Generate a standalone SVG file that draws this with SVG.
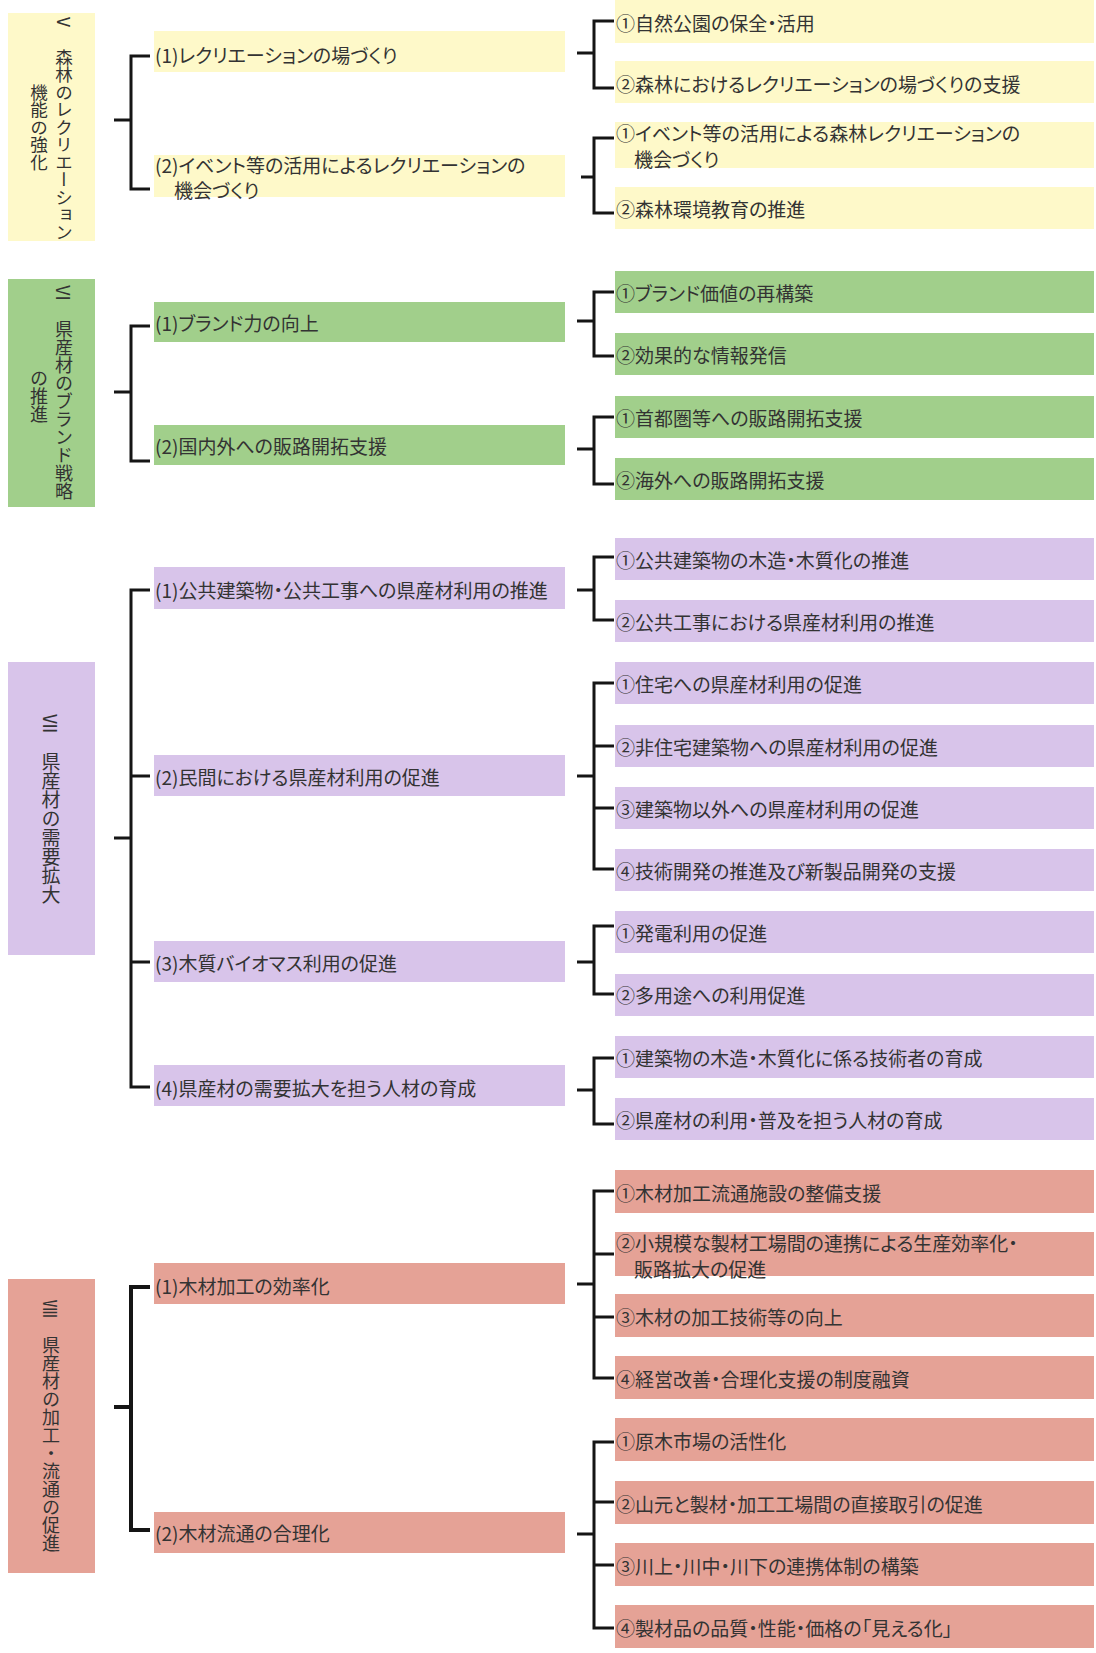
<svg xmlns="http://www.w3.org/2000/svg" width="1096" height="1653" viewBox="0 0 1096 1653">
<style>
.t{font-family:"Noto Sans CJK JP","Noto Sans CJK SC",sans-serif;font-size:19px;fill:#333;dominant-baseline:central;font-feature-settings:"palt"}
.vt{writing-mode:vertical-rl;text-anchor:middle;font-size:18px;font-feature-settings:normal}
.sd{text-orientation:sideways}
.y{fill:#FEF9C9}.g{fill:#A1CF8B}.p{fill:#D8C4EA}.s{fill:#E5A296}
.c{fill:none;stroke:#151515;stroke-width:3}
.c4{stroke-width:4}
</style>
<rect width="1096" height="1653" fill="#fff"/>
<g id="connectors">
<path class="c" d="M150 56H131V189H150M114 120H131"/>
<path class="c" d="M614 21H594V88H614M577 53H594"/>
<path class="c" d="M614 138H594V213H614M581 177H594"/>
<path class="c" d="M150 326H131V461H150M114 392H131"/>
<path class="c" d="M614 292H594V356H614M577 321H594"/>
<path class="c" d="M614 417H594V484H614M577 449H594"/>
<path class="c" d="M150 590H131V1087H150M131 776H150M131 962H150M114 838H131"/>
<path class="c" d="M614 557H594V620H614M577 590H594"/>
<path class="c" d="M614 683H594V869H614M594 746H614M594 808H614M577 776H594"/>
<path class="c" d="M614 926H594V994H614M577 962H594"/>
<path class="c" d="M614 1058H594V1124H614M577 1090H594"/>
<path class="c c4" d="M150 1287H131V1530H150M114 1407H131"/>
<path class="c" d="M614 1191H594V1378H614M594 1254H614M594 1317H614M577 1284H594"/>
<path class="c" d="M614 1442H594V1628H614M594 1502H614M594 1565H614M577 1534H594"/>
</g>
<g id="V">
<rect class="y" x="8" y="13" width="87" height="228"/>
<text class="t vt" x="64" y="127" style="font-size:17.5px"><tspan class="sd">Ⅴ</tspan>　森林のレクリエーション</text>
<text class="t vt" x="39" y="127" style="font-size:17.5px">機能の強化</text>
</g>
<g id="V-1"><rect class="y" x="154" y="31" width="411" height="41"/><text class="t" x="155" y="54">(1)レクリエーションの場づくり</text></g>
<g id="V-2"><rect class="y" x="154" y="155" width="411" height="42"/><text class="t" x="155" y="164">(2)イベント等の活用によるレクリエーションの</text><text class="t" x="174" y="189">機会づくり</text></g>
<g id="V-1-1"><rect class="y" x="615" y="0" width="479" height="43"/><text class="t" x="616" y="22">①自然公園の保全・活用</text></g>
<g id="V-1-2"><rect class="y" x="615" y="61" width="479" height="42"/><text class="t" x="616" y="83">②森林におけるレクリエーションの場づくりの支援</text></g>
<g id="V-2-1"><rect class="y" x="615" y="122" width="479" height="46"/><text class="t" x="616" y="132">①イベント等の活用による森林レクリエーションの</text><text class="t" x="634" y="158">機会づくり</text></g>
<g id="V-2-2"><rect class="y" x="615" y="187" width="479" height="42"/><text class="t" x="616" y="208">②森林環境教育の推進</text></g>

<g id="VI">
<rect class="g" x="8" y="279" width="87" height="228"/>
<text class="t vt" x="64" y="392"><tspan class="sd">Ⅵ</tspan>　県産材のブランド戦略</text>
<text class="t vt" x="39" y="396">の推進</text>
</g>
<g id="VI-1"><rect class="g" x="154" y="302" width="411" height="40"/><text class="t" x="155" y="322">(1)ブランド力の向上</text></g>
<g id="VI-2"><rect class="g" x="154" y="425" width="411" height="40"/><text class="t" x="155" y="445">(2)国内外への販路開拓支援</text></g>
<g id="VI-1-1"><rect class="g" x="615" y="271" width="479" height="42"/><text class="t" x="616" y="292">①ブランド価値の再構築</text></g>
<g id="VI-1-2"><rect class="g" x="615" y="333" width="479" height="42"/><text class="t" x="616" y="354">②効果的な情報発信</text></g>
<g id="VI-2-1"><rect class="g" x="615" y="396" width="479" height="42"/><text class="t" x="616" y="417">①首都圏等への販路開拓支援</text></g>
<g id="VI-2-2"><rect class="g" x="615" y="458" width="479" height="42"/><text class="t" x="616" y="479">②海外への販路開拓支援</text></g>

<g id="VII">
<rect class="p" x="8" y="662" width="87" height="293"/>
<text class="t vt" x="51" y="809" style="font-size:19px"><tspan class="sd">Ⅶ</tspan>　県産材の需要拡大</text>
</g>
<g id="VII-1"><rect class="p" x="154" y="567" width="411" height="42"/><text class="t" x="155" y="589">(1)公共建築物・公共工事への県産材利用の推進</text></g>
<g id="VII-2"><rect class="p" x="154" y="755" width="411" height="41"/><text class="t" x="155" y="776">(2)民間における県産材利用の促進</text></g>
<g id="VII-3"><rect class="p" x="154" y="941" width="411" height="41"/><text class="t" x="155" y="962">(3)木質バイオマス利用の促進</text></g>
<g id="VII-4"><rect class="p" x="154" y="1065" width="411" height="41"/><text class="t" x="155" y="1087">(4)県産材の需要拡大を担う人材の育成</text></g>
<g id="VII-1-1"><rect class="p" x="615" y="538" width="479" height="42"/><text class="t" x="616" y="559">①公共建築物の木造・木質化の推進</text></g>
<g id="VII-1-2"><rect class="p" x="615" y="600" width="479" height="42"/><text class="t" x="616" y="621">②公共工事における県産材利用の推進</text></g>
<g id="VII-2-1"><rect class="p" x="615" y="662" width="479" height="42"/><text class="t" x="616" y="683">①住宅への県産材利用の促進</text></g>
<g id="VII-2-2"><rect class="p" x="615" y="725" width="479" height="42"/><text class="t" x="616" y="746">②非住宅建築物への県産材利用の促進</text></g>
<g id="VII-2-3"><rect class="p" x="615" y="787" width="479" height="42"/><text class="t" x="616" y="808">③建築物以外への県産材利用の促進</text></g>
<g id="VII-2-4"><rect class="p" x="615" y="849" width="479" height="42"/><text class="t" x="616" y="870">④技術開発の推進及び新製品開発の支援</text></g>
<g id="VII-3-1"><rect class="p" x="615" y="911" width="479" height="42"/><text class="t" x="616" y="932">①発電利用の促進</text></g>
<g id="VII-3-2"><rect class="p" x="615" y="974" width="479" height="42"/><text class="t" x="616" y="994">②多用途への利用促進</text></g>
<g id="VII-4-1"><rect class="p" x="615" y="1036" width="479" height="42"/><text class="t" x="616" y="1057">①建築物の木造・木質化に係る技術者の育成</text></g>
<g id="VII-4-2"><rect class="p" x="615" y="1098" width="479" height="42"/><text class="t" x="616" y="1119">②県産材の利用・普及を担う人材の育成</text></g>

<g id="VIII">
<rect class="s" x="8" y="1279" width="87" height="294"/>
<text class="t vt" x="51" y="1426"><tspan class="sd">Ⅷ</tspan>　県産材の加工・流通の促進</text>
</g>
<g id="VIII-1"><rect class="s" x="154" y="1263" width="411" height="41"/><text class="t" x="155" y="1285">(1)木材加工の効率化</text></g>
<g id="VIII-2"><rect class="s" x="154" y="1512" width="411" height="41"/><text class="t" x="155" y="1532">(2)木材流通の合理化</text></g>
<g id="VIII-1-1"><rect class="s" x="615" y="1170" width="479" height="43"/><text class="t" x="616" y="1192">①木材加工流通施設の整備支援</text></g>
<g id="VIII-1-2"><rect class="s" x="615" y="1232" width="479" height="44"/><text class="t" x="616" y="1242">②小規模な製材工場間の連携による生産効率化・</text><text class="t" x="634" y="1268">販路拡大の促進</text></g>
<g id="VIII-1-3"><rect class="s" x="615" y="1294" width="479" height="43"/><text class="t" x="616" y="1316">③木材の加工技術等の向上</text></g>
<g id="VIII-1-4"><rect class="s" x="615" y="1356" width="479" height="43"/><text class="t" x="616" y="1378">④経営改善・合理化支援の制度融資</text></g>
<g id="VIII-2-1"><rect class="s" x="615" y="1418" width="479" height="43"/><text class="t" x="616" y="1440">①原木市場の活性化</text></g>
<g id="VIII-2-2"><rect class="s" x="615" y="1481" width="479" height="43"/><text class="t" x="616" y="1503">②山元と製材・加工工場間の直接取引の促進</text></g>
<g id="VIII-2-3"><rect class="s" x="615" y="1543" width="479" height="43"/><text class="t" x="616" y="1565">③川上・川中・川下の連携体制の構築</text></g>
<g id="VIII-2-4"><rect class="s" x="615" y="1605" width="479" height="43"/><text class="t" x="616" y="1627">④製材品の品質・性能・価格の「見える化」</text></g>
</svg>
